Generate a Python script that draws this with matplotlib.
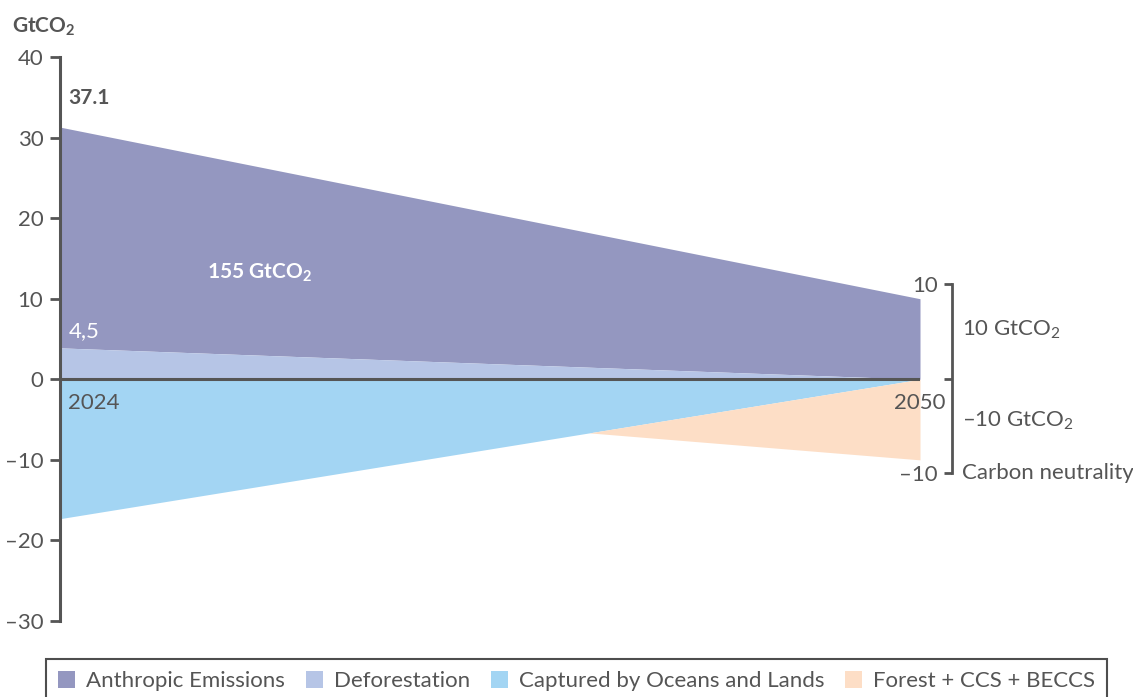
import matplotlib
matplotlib.use("Agg")
import matplotlib.pyplot as plt
from matplotlib.patches import Patch

plt.rcParams['font.family'] = ['Lato', 'DejaVu Sans']
plt.rcParams['mathtext.fontset'] = 'custom'
plt.rcParams['mathtext.rm'] = 'Lato'
plt.rcParams['mathtext.bf'] = 'Lato:bold'

# ---- data ----
years = [2024, 2050]
anthropic_top = [31.3, 10.0]
deforestation_top = [3.9, 0.0]
captured_bottom = [-17.3, 0.0]
forest_years = [2040, 2050]
forest_top = [-6.65, 0.0]
forest_bottom = [-6.65, -10.0]

series_names = ["Anthropic Emissions", "Deforestation",
                "Captured by Oceans and Lands", "Forest + CCS + BECCS"]
colors = ["#9497C0", "#B6C5E6", "#A3D5F3", "#FDDEC6"]

yticks = [40, 30, 20, 10, 0, -10, -20, -30]
ytick_labels = ["40", "30", "20", "10", "0", "–10", "–20", "–30"]

bracket_ticks = [10, 0, -10]
bracket_labels = ["10", "", "–10"]

TXT = "#555555"
AX = "#555555"
FS = 16

W, H = 1133, 697
fig = plt.figure(figsize=(W / 100, H / 100), dpi=100)
ax = fig.add_axes([60 / W, 1 - 621 / H, (920 - 60) / W, (621 - 57) / H])

ax.fill_between(years, deforestation_top, anthropic_top, color=colors[0], lw=0)
ax.fill_between(years, [0, 0], deforestation_top, color=colors[1], lw=0)
ax.fill_between(years, captured_bottom, [0, 0], color=colors[2], lw=0)
ax.fill_between(forest_years, forest_bottom, forest_top, color=colors[3], lw=0)
ax.plot(years, [0, 0], color=AX, lw=2.2, solid_capstyle='butt', zorder=5)

ax.set_xlim(2024, 2050)
ax.set_ylim(-30, 40)
for s in ["top", "right", "bottom"]:
    ax.spines[s].set_visible(False)
ax.spines["left"].set_color(AX)
ax.spines["left"].set_linewidth(2.2)
ax.set_xticks([])
ax.set_yticks(yticks)
ax.set_yticklabels(ytick_labels)
ax.tick_params(axis='y', length=7, width=2, color=AX, labelcolor=TXT,
               labelsize=FS, pad=5)

# texts
fig.text(12 / W, 1 - 27 / H, r"GtCO$_\mathbf{2}$", fontsize=15, fontweight='bold',
         color=TXT, va='center', ha='left')
ax.text(2024.25, 34.9, "37.1", fontsize=15, fontweight='bold', color=TXT,
        va='center', ha='left')
ax.text(2024.25, 6.0, "4,5", fontsize=FS, color='white', va='center', ha='left')
ax.text(2024.25, -3.0, "2024", fontsize=FS, color=TXT, va='center', ha='left')
ax.text(2050, -3.0, "2050", fontsize=FS, color=TXT, va='center', ha='center')
ax.text(2028.45, 13.2, r"155 GtCO$_\mathbf{2}$", fontsize=15, fontweight='bold',
        color='white', va='center', ha='left')

# right bracket (own scale)
bx = fig.add_axes([952 / W, 1 - 473 / H, 0.02, (473 - 284) / H])
bx.set_ylim(-10, 10)
bx.patch.set_visible(False)
for s in ["top", "right", "bottom"]:
    bx.spines[s].set_visible(False)
bx.spines["left"].set_color(AX)
bx.spines["left"].set_linewidth(2)
bx.set_xticks([])
bx.set_yticks(bracket_ticks)
bx.set_yticklabels(bracket_labels)
bx.tick_params(axis='y', length=6, width=2, color=AX, labelcolor=TXT,
               labelsize=FS, pad=4)
bx.text(10 / 22.66, 5.2, r"10 GtCO$_2$", transform=bx.get_yaxis_transform(),
        fontsize=FS, color=TXT, ha='left', va='center', clip_on=False)
bx.text(10 / 22.66, -4.5, r"–10 GtCO$_2$", transform=bx.get_yaxis_transform(),
        fontsize=FS, color=TXT, ha='left', va='center', clip_on=False)
bx.text(10 / 22.66, -10, "Carbon neutrality", transform=bx.get_yaxis_transform(),
        fontsize=FS, color=TXT, ha='left', va='center', clip_on=False)

# legend
handles = [Patch(facecolor=c, edgecolor='none', label=n) for c, n in zip(colors, series_names)]
leg = fig.legend(handles=handles, ncol=4, loc='upper left',
                 bbox_to_anchor=(46 / W, 1 - 659 / H), frameon=True,
                 fontsize=FS, handlelength=0.75, handleheight=0.75,
                 handletextpad=0.5, columnspacing=0.95, borderpad=0.55,
                 labelcolor=TXT, fancybox=False, borderaxespad=0)
leg.get_frame().set_edgecolor('#222222')
leg.get_frame().set_linewidth(1.5)

fig.savefig("out.png", dpi=100)
